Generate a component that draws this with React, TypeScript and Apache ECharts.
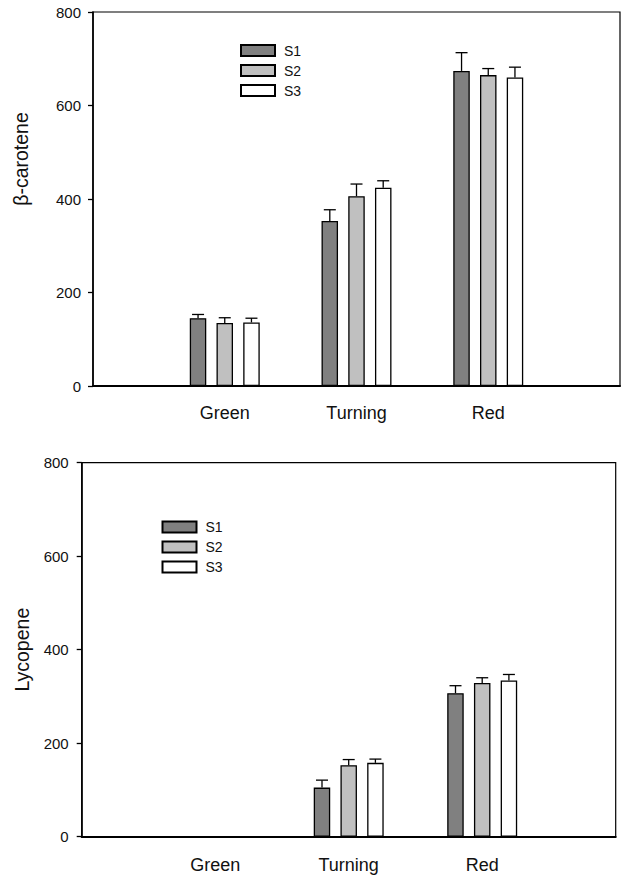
import React, { useEffect, useRef } from "react";
import * as echarts from "echarts";

const categories = ["", "Green", "Turning", "Red", ""];
const seriesNames = ["S1", "S2", "S3"];
const seriesColors = ["#808080", "#c0c0c0", "#ffffff"];
const yTicks = [0, 200, 400, 600, 800];

// β-carotene (top chart)
const betaS1 = [null, 145, 353, 674, null];
const betaS2 = [null, 135, 406, 665, null];
const betaS3 = [null, 136, 424, 660, null];
const betaErrS1 = [0, 8, 24, 39, 0];
const betaErrS2 = [0, 11, 26, 14, 0];
const betaErrS3 = [0, 9, 15, 22, 0];

// Lycopene (bottom chart)
const lycoS1 = [null, 0, 105, 307, null];
const lycoS2 = [null, 0, 153, 329, null];
const lycoS3 = [null, 0, 158, 334, null];
const lycoErrS1 = [0, 0, 16, 16, 0];
const lycoErrS2 = [0, 0, 12, 11, 0];
const lycoErrS3 = [0, 0, 8, 13, 0];

const FONT = '"Liberation Sans", Arial, Helvetica, sans-serif';
const BAR_W = 16.5;
const BAR_STEP = 26.7;

export default function App() {
  const ref = useRef<HTMLDivElement>(null);
  useEffect(() => {
    if (!ref.current) return;
    const chart = echarts.init(ref.current, undefined, { renderer: "svg" });

    const grids = [
      { left: 93, top: 12, width: 536, height: 374 },
      { left: 81.7, top: 462.7, width: 534, height: 374 },
    ];
    const yNames = ["β-carotene", "Lycopene"];
    const nameGaps = [62, 50];
    const namePads = [
      [0, 0, 0, 80],
      [0, 0, 0, 0],
    ];
    const labelMargins = [12, 13];

    const values = [
      [betaS1, betaS2, betaS3],
      [lycoS1, lycoS2, lycoS3],
    ];
    const errs = [
      [betaErrS1, betaErrS2, betaErrS3],
      [lycoErrS1, lycoErrS2, lycoErrS3],
    ];

    const series: any[] = [];
    for (let g = 0; g < 2; g++) {
      for (let s = 0; s < 3; s++) {
        series.push({
          type: "bar",
          name: seriesNames[s],
          xAxisIndex: g,
          yAxisIndex: g,
          data: values[g][s],
          barWidth: BAR_W,
          barGap: "62%",
          itemStyle: { color: seriesColors[s], borderColor: "#000", borderWidth: 1.3 },
          z: 3,
        });
      }
      for (let s = 0; s < 3; s++) {
        const data = values[g][s]
          .map((v, i) => (v === null || v === 0 ? null : [i, v, errs[g][s][i]]))
          .filter((d) => d !== null);
        const offset = (s - 1) * BAR_STEP;
        series.push({
          type: "custom",
          xAxisIndex: g,
          yAxisIndex: g,
          data,
          z: 4,
          renderItem: (params: any, api: any) => {
            const x = api.value(0);
            const v = api.value(1);
            const e = api.value(2);
            const base = api.coord([x, v]);
            const top = api.coord([x, v + e]);
            const cx = base[0] + offset;
            return {
              type: "group",
              children: [
                {
                  type: "line",
                  shape: { x1: cx, y1: base[1], x2: cx, y2: top[1] },
                  style: { stroke: "#000", lineWidth: 1.3 },
                },
                {
                  type: "line",
                  shape: { x1: cx - 6, y1: top[1], x2: cx + 6, y2: top[1] },
                  style: { stroke: "#000", lineWidth: 1.3 },
                },
              ],
            };
          },
        });
      }
    }

    const legendBase = {
      data: seriesNames,
      orient: "vertical",
      padding: 0,
      itemWidth: 34,
      itemHeight: 11,
      itemGap: 6,
      icon: "rect",
      selectedMode: false,
      textStyle: { fontSize: 14, color: "#111", fontFamily: FONT, padding: [0, 0, 0, 4] },
    };

    const option: any = {
      animation: false,
      textStyle: { fontFamily: FONT },
      grid: grids.map((gr) => ({
        ...gr,
        show: true,
        borderColor: "#000",
        borderWidth: 1.2,
        backgroundColor: "transparent",
        containLabel: false,
      })),
      legend: [
        { ...legendBase, left: 240, top: 43.5 },
        { ...legendBase, left: 161.5, top: 520 },
      ],
      xAxis: [0, 1].map((g) => ({
        type: "category",
        gridIndex: g,
        data: categories,
        boundaryGap: false,
        axisLine: { lineStyle: { color: "#000", width: 2 } },
        axisTick: { show: false },
        axisLabel: {
          color: "#111",
          fontSize: 18,
          fontFamily: FONT,
          margin: g === 0 ? 18 : 19,
          interval: 0,
        },
        splitLine: { show: false },
      })),
      yAxis: [0, 1].map((g) => ({
        type: "value",
        gridIndex: g,
        min: yTicks[0],
        max: yTicks[yTicks.length - 1],
        interval: 200,
        name: yNames[g],
        nameLocation: "middle",
        nameGap: nameGaps[g],
        nameTextStyle: { fontSize: 19.5, color: "#111", fontFamily: FONT, padding: namePads[g] },
        axisLine: { show: true, lineStyle: { color: "#000", width: 1.6 } },
        axisTick: { show: true, length: 5, lineStyle: { color: "#000", width: 1.3 } },
        axisLabel: { color: "#111", fontSize: 15, fontFamily: FONT, margin: labelMargins[g] },
        splitLine: { show: false },
      })),
      series,
    };

    chart.setOption(option);
    return () => chart.dispose();
  }, []);

  return (
    <div
      ref={ref}
      style={{ position: "absolute", left: 0, top: 0, width: 623, height: 877, background: "#fff" }}
    />
  );
}
